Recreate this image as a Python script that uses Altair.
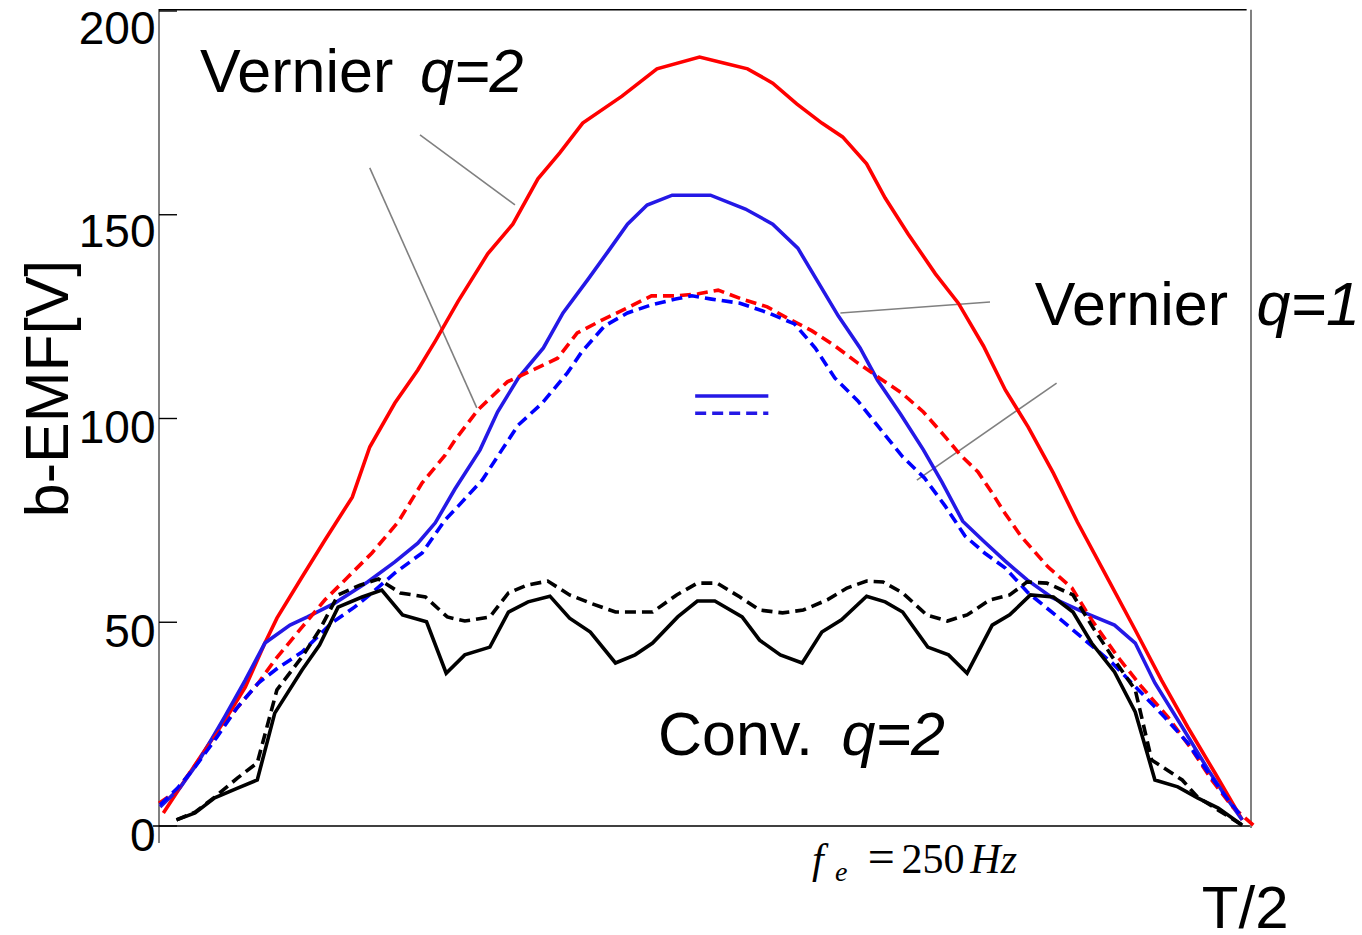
import altair as alt
import pandas as pd

# ---- data (x: fraction of T/2, y: b-EMF in V) ----
red_solid_t = [0.004,0.019,0.036,0.062,0.079,0.097,0.108,0.131,0.152,0.177,0.193,0.216,0.237,0.253,0.274,0.301,0.324,0.347,0.367,0.388,0.424,0.456,0.495,0.518,0.539,0.562,0.584,0.607,0.626,0.648,0.665,0.686,0.711,0.732,0.755,0.775,0.796,0.819,0.841,0.866,0.894,0.918,0.942,0.967,0.992]
red_solid_v = [3.2,9.3,16.2,26.7,34.1,44.9,51.0,61.1,70.2,80.7,93.0,103.8,111.9,119.0,128.8,140.4,147.7,158.8,165.2,172.5,179.1,185.8,188.7,187.2,185.8,182.3,177.2,172.5,169.1,162.5,154.1,145.3,135.5,128.3,117.8,107.0,97.9,86.6,74.6,62.1,48.1,35.8,24.3,13.0,1.5]

blue_solid_t = [0.001,0.019,0.036,0.060,0.079,0.097,0.120,0.136,0.161,0.191,0.216,0.237,0.253,0.271,0.294,0.310,0.329,0.352,0.370,0.393,0.411,0.429,0.447,0.470,0.505,0.537,0.562,0.585,0.603,0.622,0.642,0.658,0.679,0.700,0.717,0.736,0.756,0.775,0.795,0.818,0.848,0.875,0.894,0.912,0.937,0.961,0.979,0.992]
blue_solid_v = [4.7,9.3,15.7,26.7,35.8,44.9,49.3,51.3,54.7,59.9,64.8,69.4,74.4,82.7,92.3,101.6,109.9,117.3,125.9,134.2,140.9,147.7,152.4,154.8,154.8,151.4,147.7,141.8,133.7,125.2,117.3,109.4,101.1,92.3,84.4,74.8,69.7,65.0,60.4,56.0,52.3,49.3,44.9,35.1,24.3,13.7,6.4,1.5]

red_dash_t = [0.0,0.015,0.030,0.049,0.070,0.091,0.106,0.131,0.152,0.173,0.195,0.219,0.241,0.262,0.271,0.292,0.319,0.344,0.365,0.383,0.406,0.427,0.451,0.473,0.494,0.512,0.534,0.557,0.575,0.598,0.619,0.640,0.660,0.680,0.700,0.720,0.734,0.750,0.763,0.775,0.790,0.814,0.836,0.854,0.878,0.900,0.924,0.946,0.964,0.983,1.004]
red_dash_v = [5.6,8.3,13.7,21.1,28.5,35.1,40.7,48.8,55.5,61.1,67.0,74.6,84.2,91.0,94.7,102.1,109.0,112.1,114.8,121.0,124.2,126.9,130.1,130.1,130.6,131.5,129.3,127.4,124.7,121.5,117.8,113.6,109.9,106.3,101.6,95.5,91.0,86.9,81.7,76.6,70.9,63.6,58.4,50.6,41.5,34.1,26.7,18.7,11.3,4.7,-0.2]

blue_dash_t = [0.001,0.017,0.033,0.053,0.072,0.091,0.109,0.131,0.158,0.179,0.195,0.216,0.241,0.262,0.274,0.296,0.314,0.329,0.351,0.374,0.387,0.408,0.429,0.451,0.473,0.488,0.506,0.532,0.558,0.582,0.601,0.619,0.640,0.662,0.681,0.701,0.720,0.738,0.756,0.775,0.796,0.823,0.848,0.873,0.897,0.921,0.942,0.961,0.979,0.992]
blue_dash_v = [5.2,9.3,14.5,21.8,29.2,35.1,38.8,42.7,49.8,53.7,57.2,62.1,67.0,75.1,78.5,84.9,92.3,98.4,103.8,111.2,116.3,122.7,125.9,127.9,129.3,130.1,129.3,128.3,125.9,123.2,117.3,109.9,104.3,96.9,90.6,85.4,78.5,71.2,67.0,63.3,57.2,51.3,45.6,40.0,33.4,26.7,20.4,13.0,6.4,2.2]

black_solid_t = [0.016,0.033,0.051,0.072,0.090,0.106,0.131,0.147,0.164,0.186,0.204,0.223,0.245,0.263,0.280,0.303,0.320,0.338,0.358,0.376,0.395,0.418,0.436,0.452,0.475,0.493,0.509,0.534,0.550,0.569,0.589,0.607,0.625,0.648,0.665,0.681,0.704,0.723,0.740,0.763,0.779,0.798,0.819,0.837,0.854,0.875,0.894,0.912,0.933,0.951,0.970,0.992]
black_solid_v = [1.5,3.2,6.9,9.3,11.3,27.7,38.3,44.4,53.7,56.2,57.9,51.8,50.1,37.5,42.0,43.9,52.5,55.0,56.4,51.0,47.6,40.0,42.0,44.9,51.3,55.2,55.2,51.3,45.6,42.0,40.0,47.6,50.6,56.4,55.0,52.5,43.9,42.0,37.5,49.3,51.8,56.7,56.2,52.5,44.9,37.8,28.0,11.3,9.6,6.9,4.4,0.2]

black_dash_t = [0.016,0.033,0.051,0.072,0.090,0.108,0.131,0.147,0.164,0.184,0.201,0.221,0.244,0.264,0.280,0.303,0.320,0.337,0.356,0.376,0.395,0.418,0.452,0.474,0.493,0.511,0.532,0.550,0.571,0.590,0.612,0.630,0.648,0.663,0.681,0.703,0.722,0.740,0.761,0.779,0.795,0.813,0.837,0.855,0.873,0.894,0.909,0.937,0.951,0.970,0.992]
black_dash_v = [1.5,3.4,7.1,11.8,15.5,33.4,41.5,48.1,56.7,59.1,60.6,57.2,56.2,51.3,50.3,51.3,57.2,59.1,60.1,56.7,54.7,52.5,52.5,56.7,59.6,59.6,56.2,53.0,52.3,53.0,55.5,58.4,60.1,59.9,57.2,51.8,50.3,51.8,55.5,56.7,59.9,59.6,56.7,48.8,41.5,33.4,16.2,11.3,7.1,3.9,0.2]

y_ticks = [0, 50, 100, 150, 200]

xs = alt.Scale(domain=[0, 1], nice=False, zero=False)
ys = alt.Scale(domain=[0, 200], nice=False, zero=False)

y_axis = alt.Axis(
    values=y_ticks, ticks=False, domain=False, grid=False,
    labelFont="Liberation Sans", labelFontSize=46, labelColor="#000000",
    labelPadding=4, labelFlush=False,
    labelOffset={"condition": {"test": "datum.value >= 150", "value": 18}, "value": 10},
    title="b-EMF[V]", titleFont="Liberation Sans", titleFontSize=61,
    titleFontWeight="normal", titleColor="#000000", titleAngle=270,
    titleAlign="center", titleBaseline="middle", titleX=-110, titleY=377)


def X(field):
    return alt.X(field, scale=xs, axis=None)


def Y(field):
    return alt.Y(field, scale=ys, axis=y_axis)


def curve(ts, vs, color, dash):
    df = pd.DataFrame({"t": ts, "v": vs})
    props = dict(color=color, strokeWidth=3.6, clip=False)
    if dash:
        props["strokeDash"] = [11, 6]
    return alt.Chart(df).mark_line(**props).encode(x=X("t:Q"), y=Y("v:Q"))


# frame, ticks and leader lines
frame = pd.DataFrame([
    {"x": 0.0, "x2": 0.0, "y": 200.5, "y2": -4.2, "c": "#808080", "w": 2.0},     # left axis
    {"x": -0.0055, "x2": 0.999, "y": 0.0, "y2": 0.0, "c": "#000000", "w": 1.4},  # bottom
    {"x": 0.0, "x2": 0.996, "y": 200.3, "y2": 200.3, "c": "#000000", "w": 1.4},  # top
    {"x": 1.0, "x2": 1.0, "y": 200.3, "y2": -0.5, "c": "#808080", "w": 2.0},     # right
    {"x": 0.239, "x2": 0.326, "y": 169.6, "y2": 152.4, "c": "#808080", "w": 1.6},
    {"x": 0.193, "x2": 0.291, "y": 161.5, "y2": 102.6, "c": "#808080", "w": 1.6},
    {"x": 0.761, "x2": 0.624, "y": 128.6, "y2": 125.9, "c": "#808080", "w": 1.6},
    {"x": 0.822, "x2": 0.694, "y": 108.7, "y2": 84.9, "c": "#808080", "w": 1.6},
] + [{"x": 0.0, "x2": 0.0165, "y": v, "y2": v, "c": "#000000", "w": 1.4} for v in y_ticks])

rules = alt.Chart(frame).mark_rule(clip=False).encode(
    x=X("x:Q"), x2="x2:Q",
    y=Y("y:Q"), y2="y2:Q",
    color=alt.Color("c:N", scale=None),
    strokeWidth=alt.StrokeWidth("w:Q", scale=None),
)

key_solid = pd.DataFrame([{"x": 0.491, "x2": 0.558, "y": 105.5}])
key_dash = pd.DataFrame([{"x": 0.491, "x2": 0.558, "y": 101.3}])


def key(df, dash):
    props = dict(clip=False, strokeWidth=3.5, color="#2418E6")
    if dash:
        props["strokeDash"] = [11, 6]
    return alt.Chart(df).mark_rule(**props).encode(x=X("x:Q"), x2="x2:Q", y=Y("y:Q"))


# annotation texts
sans_normal = pd.DataFrame([
    {"x": 0.0375, "y": 180.1, "text": "Vernier"},
    {"x": 0.802, "y": 122.9, "text": "Vernier"},
    {"x": 0.457, "y": 17.4, "text": "Conv."},
])
sans_normal_t2 = pd.DataFrame([
    {"x": 0.955, "y": -25.0, "text": "T/2"},
])
sans_italic = pd.DataFrame([
    {"x": 0.239, "y": 180.1, "text": "q=2"},
    {"x": 1.005, "y": 122.9, "text": "q=1"},
    {"x": 0.625, "y": 17.4, "text": "q=2"},
])
serif_italic_big = pd.DataFrame([
    {"x": 0.598, "y": -11.5, "text": "f"},
    {"x": 0.743, "y": -11.5, "text": "Hz"},
])
serif_italic_small = pd.DataFrame([
    {"x": 0.619, "y": -13.5, "text": "e"},
])
serif_eq = pd.DataFrame([
    {"x": 0.649, "y": -11.5, "text": "="},
])
serif_num = pd.DataFrame([
    {"x": 0.680, "y": -11.5, "text": "250"},
])


def text_layer(df, font, style, size):
    return alt.Chart(df).mark_text(
        font=font, fontStyle=style, fontSize=size, align="left",
        baseline="alphabetic", color="#000000", clip=False
    ).encode(x=X("x:Q"), y=Y("y:Q"), text="text:N")


layers = [
    rules,
    curve(red_solid_t, red_solid_v, "#FF0000", False),
    curve(blue_solid_t, blue_solid_v, "#2418E6", False),
    curve(red_dash_t, red_dash_v, "#FF0000", True),
    curve(blue_dash_t, blue_dash_v, "#0000FF", True),
    curve(black_solid_t, black_solid_v, "#000000", False),
    curve(black_dash_t, black_dash_v, "#000000", True),
    key(key_solid, False),
    key(key_dash, True),
    text_layer(sans_normal, "Liberation Sans", "normal", 61),
    text_layer(sans_normal_t2, "Liberation Sans", "normal", 60),
    text_layer(sans_italic, "Liberation Sans", "italic", 61),
    text_layer(serif_italic_big, "Liberation Serif", "italic", 42),
    text_layer(serif_italic_small, "Liberation Serif", "italic", 28),
    text_layer(serif_eq, "Liberation Serif", "normal", 48),
    text_layer(serif_num, "Liberation Serif", "normal", 42),
]

chart = alt.layer(*layers).properties(
    width=1092, height=815,
    autosize=alt.AutoSizeParams(type="none"),
    padding={"left": 159, "top": 11, "right": 111, "bottom": 109},
    background="#ffffff",
).configure_view(stroke=None)

chart.save("out.html", embed_options={"renderer": "svg", "actions": False})
